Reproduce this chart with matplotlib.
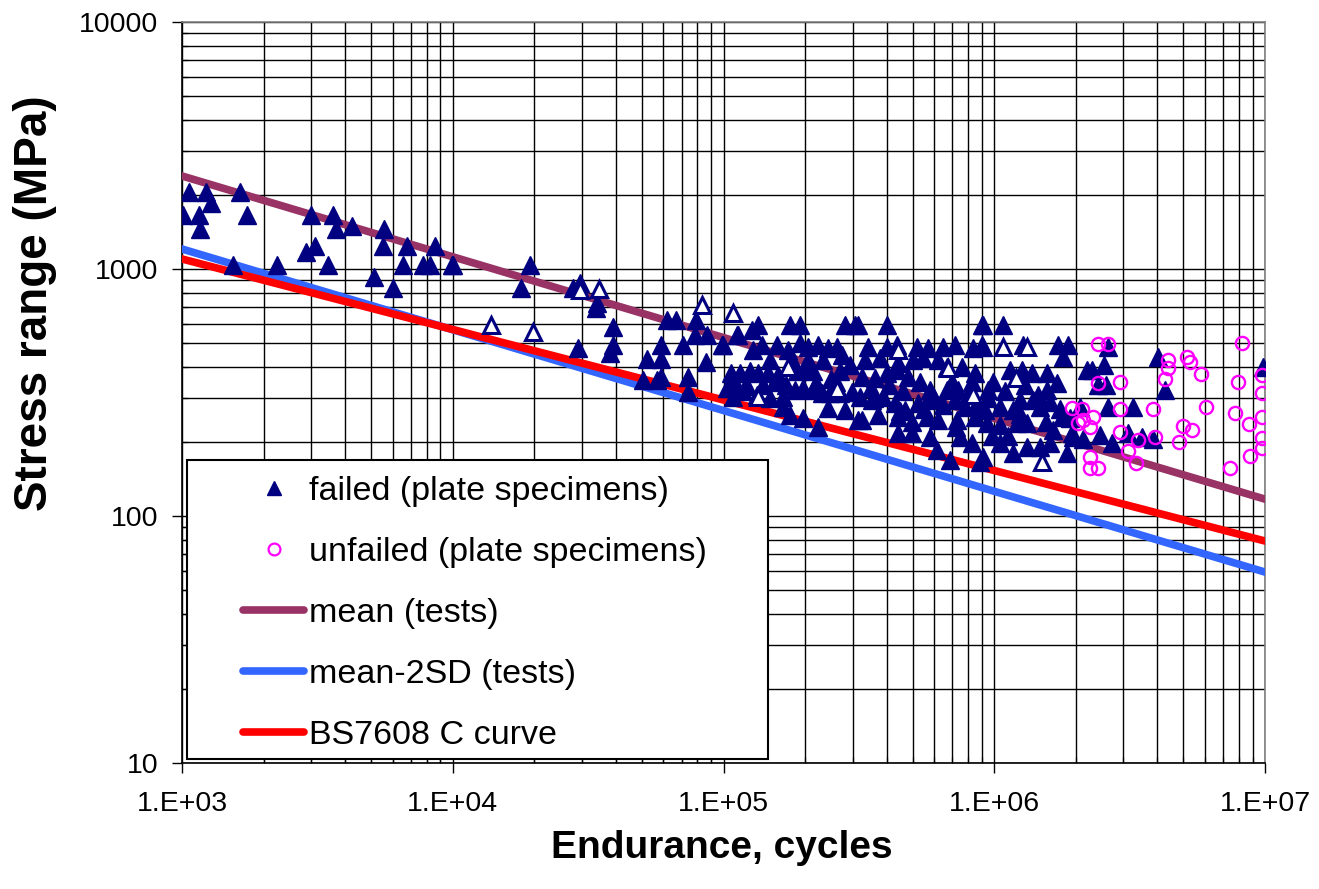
import matplotlib
matplotlib.use("Agg")
import matplotlib.pyplot as plt
from matplotlib.patches import Rectangle
from matplotlib.lines import Line2D
from matplotlib.ticker import FixedLocator, FixedFormatter, LogLocator, NullFormatter

plt.rcParams['font.family'] = ['Liberation Sans', 'DejaVu Sans']

# ---------------- data ----------------
failed_N = [
    1.06e3, 1.23e3, 1.64e3, 1.28e3, 1.01e3, 1.16e3, 1.74e3, 1.17e3, 2.99e3, 3.61e3,
    3.71e3, 4.25e3, 5.57e3, 5.52e3, 6.78e3, 8.6e3, 3.1e3, 2.87e3, 3.46e3, 6.55e3,
    7.76e3, 8.24e3, 9.9e3, 1.54e3, 2.24e3, 5.12e3, 6.02e3,
    1.0e4, 1.93e4, 1.79e4, 2.95e4, 2.78e4, 3.41e4, 3.38e4, 3.91e4, 3.91e4, 3.8e4,
    2.9e4, 6.2e4, 6.7e4, 7.9e4, 7.85e4, 8.7e4, 5.9e4, 7.1e4, 9.9e4, 1.12e5,
    5.2e4, 5.9e4, 8.6e4, 5.04e4, 5.7e4, 5.9e4, 7.4e4, 7.4e4, 1.07e5, 1.06e5, 1.08e5,
    1.13e5, 1.27e5, 1.34e5, 1.76e5, 1.92e5, 2.81e5, 3.06e5, 9.96e4, 1.29e5, 1.39e5,
    1.58e5, 1.73e5, 1.92e5, 2.05e5, 2.23e5, 2.43e5, 2.62e5, 2.74e5, 1.49e5, 1.79e5,
    2.05e5, 2.33e5, 1.15e5, 1.25e5, 1.34e5, 1.46e5, 1.59e5, 1.87e5, 2.0e5, 2.14e5,
    2.69e5, 2.93e5, 1.03e5, 1.22e5, 1.33e5, 1.49e5, 1.66e5, 1.84e5, 1.97e5, 2.14e5,
    2.31e5, 2.47e5, 2.69e5, 2.98e5, 2.43e5, 2.81e5, 1.66e5, 1.76e5, 1.97e5, 2.23e5,
    3.14e5,
    3.14e5, 4.02e5, 9.0e5, 3.42e5, 4.02e5, 4.38e5, 5.19e5, 5.69e5, 6.47e5, 7.17e5,
    8.35e5, 9.0e5, 3.33e5, 3.78e5, 4.42e5, 5.0e5, 5.46e5, 6.2e5, 6.69e5, 7.6e5,
    8.5e5, 3.25e5, 3.63e5, 4.02e5, 4.38e5, 4.8e5, 5.8e5, 6.69e5, 7.35e5, 8.28e5,
    9.48e5, 3.19e5, 3.53e5, 3.88e5, 4.3e5, 4.68e5, 5.23e5, 5.69e5, 6.47e5, 7.17e5,
    7.8e5, 8.6e5, 9.25e5, 3.25e5, 3.72e5, 4.42e5, 4.97e5, 5.64e5, 6.2e5, 7.28e5,
    8.5e5, 4.42e5, 4.97e5, 5.8e5, 7.47e5, 8.28e5, 6.15e5, 6.87e5, 8.85e5,
    9.08e5, 1.08e6, 1.28e6, 1.72e6, 1.87e6, 1.8e6, 9.08e5, 1.14e6, 1.27e6, 1.38e6,
    1.57e6, 9.9e5, 1.71e6, 1.57e6, 2.2e6, 1.25e6, 1.39e6, 1.05e6, 1.47e6, 1.78e6,
    1.17e6, 9.4e5, 1.05e6, 1.21e6, 1.32e6, 1.65e6, 1.05e6, 1.32e6, 1.47e6, 1.17e6,
    1.86e6, 9.08e5, 1.95e6,
    2.63e6, 4.03e6, 4.28e6, 9.84e6, 2.3e6, 2.54e6, 2.42e6, 2.59e6, 2.63e6, 3.25e6,
    2.07e6, 1.94e6, 2.13e6, 2.46e6, 2.72e6, 3.12e6, 3.51e6, 3.86e6, 1.61e6,
    1.1e5, 1.18e5, 1.4e5, 1.55e5, 1.7e5, 2.5e5, 3.5e5, 4.1e5, 4.6e5, 5.3e5,
    6.0e5, 7.0e5, 8.0e5, 9.5e5, 1.1e6, 1.3e6, 1.45e6, 1.6e6, 1.75e6, 1.9e6,
    1.12e6, 1.25e6, 1.55e6, 7.2e5, 9.8e5, 3.6e5, 4.5e5, 5.5e5, 2.2e5, 2.6e5,
]
failed_S = [
    2050, 2050, 2050, 1850, 1660, 1660, 1660, 1450, 1660, 1660,
    1450, 1490, 1450, 1240, 1240, 1240, 1240, 1170, 1040, 1040,
    1040, 1040, 1040, 1040, 1040, 929, 838,
    1040, 1040, 838, 877, 838, 728, 695, 582, 492, 457,
    479, 620, 620, 620, 541, 541, 492, 492, 492, 541,
    433, 433, 420, 356, 356, 366, 366, 318, 379, 330, 303,
    541, 566, 593, 593, 593, 593, 593, 492, 470, 492,
    492, 470, 501, 483, 492, 479, 483, 449, 429, 429,
    429, 429, 379, 386, 379, 379, 372, 386, 397, 386,
    386, 408, 330, 335, 309, 301, 303, 324, 330, 324,
    315, 315, 315, 317, 274, 269, 276, 256, 249, 229,
    245,
    593, 593, 593, 483, 483, 492, 483, 479, 483, 492,
    479, 492, 429, 436, 416, 429, 436, 429, 401, 401,
    379, 366, 362, 379, 390, 366, 324, 324, 324, 349,
    324, 303, 295, 303, 287, 269, 287, 295, 281, 295,
    276, 287, 269, 245, 256, 252, 240, 252, 245, 245,
    252, 217, 217, 209, 209, 198, 185, 169, 166,
    593, 593, 492, 492, 492, 441, 483, 390, 390, 379,
    379, 349, 346, 324, 390, 295, 295, 276, 276, 252,
    269, 238, 234, 238, 238, 223, 198, 190, 190, 180,
    180, 173, 209,
    483, 441, 324, 401, 390, 408, 338, 338, 276, 276,
    276, 217, 205, 212, 198, 217, 209, 205, 198,
    345, 320, 340, 350, 340, 360, 330, 340, 320, 350,
    300, 350, 310, 300, 320, 340, 310, 290, 270, 250,
    210, 260, 240, 230, 210, 300, 265, 270, 345, 350,
]

open_tri_N = [1.38e4, 1.98e4, 2.96e4, 3.47e4, 8.3e4, 1.08e5, 1.34e5, 1.73e5,
              2.62e5, 4.42e5, 6.75e5, 8.35e5, 1.08e6, 1.32e6, 1.2e6, 1.5e6]
open_tri_S = [593, 556, 820, 830, 715, 664, 303, 401,
              327, 470, 397, 309, 483, 483, 362, 166]

unfailed_N = [2.42e6, 2.63e6, 8.2e6, 4.38e6, 5.15e6, 5.29e6, 4.38e6, 4.28e6, 5.8e6, 2.42e6,
              2.91e6, 7.95e6, 9.75e6, 9.75e6, 6.05e6, 3.86e6, 2.91e6, 7.75e6, 9.75e6, 1.94e6,
              2.11e6, 2.32e6, 2.04e6, 2.13e6, 2.26e6, 4.98e6, 5.37e6, 8.73e6, 2.91e6, 3.93e6,
              3.4e6, 4.81e6, 9.75e6, 9.75e6, 3.12e6, 8.81e6, 2.26e6, 3.34e6, 2.26e6, 2.42e6,
              7.43e6]
unfailed_S = [497, 497, 500, 429, 441, 421, 397, 359, 376, 345,
              349, 349, 372, 315, 276, 272, 272, 261, 252, 274,
              272, 252, 238, 245, 229, 231, 223, 235, 219, 209,
              204, 200, 207, 188, 183, 175, 173, 164, 156, 156,
              156]

line_N = [1e3, 1e7]
mean_S = [2380, 117]
mean2sd_S = [1205, 59.3]
bs7608_S = [1098, 79.2]

x_ticks = [1e3, 1e4, 1e5, 1e6, 1e7]
x_tick_labels = ['1.E+03', '1.E+04', '1.E+05', '1.E+06', '1.E+07']
y_ticks = [10, 100, 1000, 10000]
y_tick_labels = ['10', '100', '1000', '10000']

# ---------------- figure ----------------
W, H = 1319, 889
fig = plt.figure(figsize=(W / 100, H / 100), dpi=100)
ax = fig.add_axes([182 / W, 1 - 763 / H, 1083 / W, 741 / H])
ax.set_xscale('log')
ax.set_yscale('log')
ax.set_xlim(1e3, 1e7)
ax.set_ylim(10, 10000)

ax.grid(True, which='both', color='black', lw=1.0)
ax.set_axisbelow(True)

navy = '#000080'
ax.plot(line_N, mean_S, color='#993366', lw=5.5, zorder=3, label='mean (tests)')
ax.plot(line_N, mean2sd_S, color='#3366FF', lw=5.5, zorder=3, label='mean-2SD (tests)')
ax.plot(line_N, bs7608_S, color='#FF0000', lw=5.5, zorder=3, label='BS7608 C curve')

ax.plot(failed_N, failed_S, ls='none', marker='^', ms=12.5, mfc=navy, mec=navy, mew=1,
        zorder=4, label='failed (plate specimens)')
ax.plot(open_tri_N, open_tri_S, ls='none', marker='^', ms=11, mfc='white', mec=navy, mew=2.2,
        zorder=4, label='_nolegend_')
ax.plot(unfailed_N, unfailed_S, ls='none', marker='o', ms=9.5, mfc='none', mec='#FF00FF', mew=1.7,
        zorder=4, label='unfailed (plate specimens)')

# ticks
ax.xaxis.set_major_locator(FixedLocator(x_ticks))
ax.xaxis.set_major_formatter(FixedFormatter(x_tick_labels))
ax.yaxis.set_major_locator(FixedLocator(y_ticks))
ax.yaxis.set_major_formatter(FixedFormatter(y_tick_labels))
ax.xaxis.set_minor_locator(LogLocator(base=10, subs=range(2, 10)))
ax.yaxis.set_minor_locator(LogLocator(base=10, subs=range(2, 10)))
ax.xaxis.set_minor_formatter(NullFormatter())
ax.yaxis.set_minor_formatter(NullFormatter())
ax.tick_params(which='major', direction='out', length=7, width=1, labelsize=20.5, color='black')
ax.tick_params(axis='x', which='major', pad=13)
ax.tick_params(axis='y', which='major', pad=10)
ax.tick_params(which='minor', direction='in', length=4, width=0.9)

for s in ['left', 'bottom']:
    ax.spines[s].set_color('black')
    ax.spines[s].set_linewidth(1.2)
for s in ['top', 'right']:
    ax.spines[s].set_color('#808080')
    ax.spines[s].set_linewidth(1.2)

ax.set_xlabel('Endurance, cycles', fontsize=28, fontweight='bold')
ax.set_ylabel('Stress range (MPa)', fontsize=33, fontweight='bold')
ax.xaxis.set_label_coords(0.4986, (763 - 848) / 741)
ax.xaxis.label.set_va('center')
ax.yaxis.set_label_coords((35 - 182) / 1083, (763 - 303) / 741)
ax.yaxis.label.set_va('center')

# legend box
rect = Rectangle((5 / 1083, 4 / 741), (768 - 187) / 1083, (759 - 460) / 741,
                 transform=ax.transAxes, facecolor='white', edgecolor='black', lw=1.5, zorder=6)
ax.add_patch(rect)

handles, labels = ax.get_legend_handles_labels()
order = ['failed (plate specimens)', 'unfailed (plate specimens)', 'mean (tests)',
         'mean-2SD (tests)', 'BS7608 C curve']
hmap = dict(zip(labels, handles))
leg_handles = []
for lab in order:
    h = hmap[lab]
    if lab.startswith('failed'):
        leg_handles.append(Line2D([], [], ls='none', marker='^', ms=10, mfc=navy, mec=navy))
    elif lab.startswith('unfailed'):
        leg_handles.append(Line2D([], [], ls='none', marker='o', ms=8.5, mfc='none', mec='#FF00FF', mew=1.6))
    else:
        leg_handles.append(Line2D([], [], color=h.get_color(), lw=5.5, solid_capstyle='round'))
leg = ax.legend(leg_handles, order, loc='upper left',
                bbox_to_anchor=((243 - 182) / 1083, (763 - 476) / 741),
                frameon=False, fontsize=24.5, handlelength=1.8, handletextpad=0.15,
                labelspacing=0.88, borderpad=0, borderaxespad=0)
leg.set_zorder(7)

fig.savefig('out.png', dpi=100)
